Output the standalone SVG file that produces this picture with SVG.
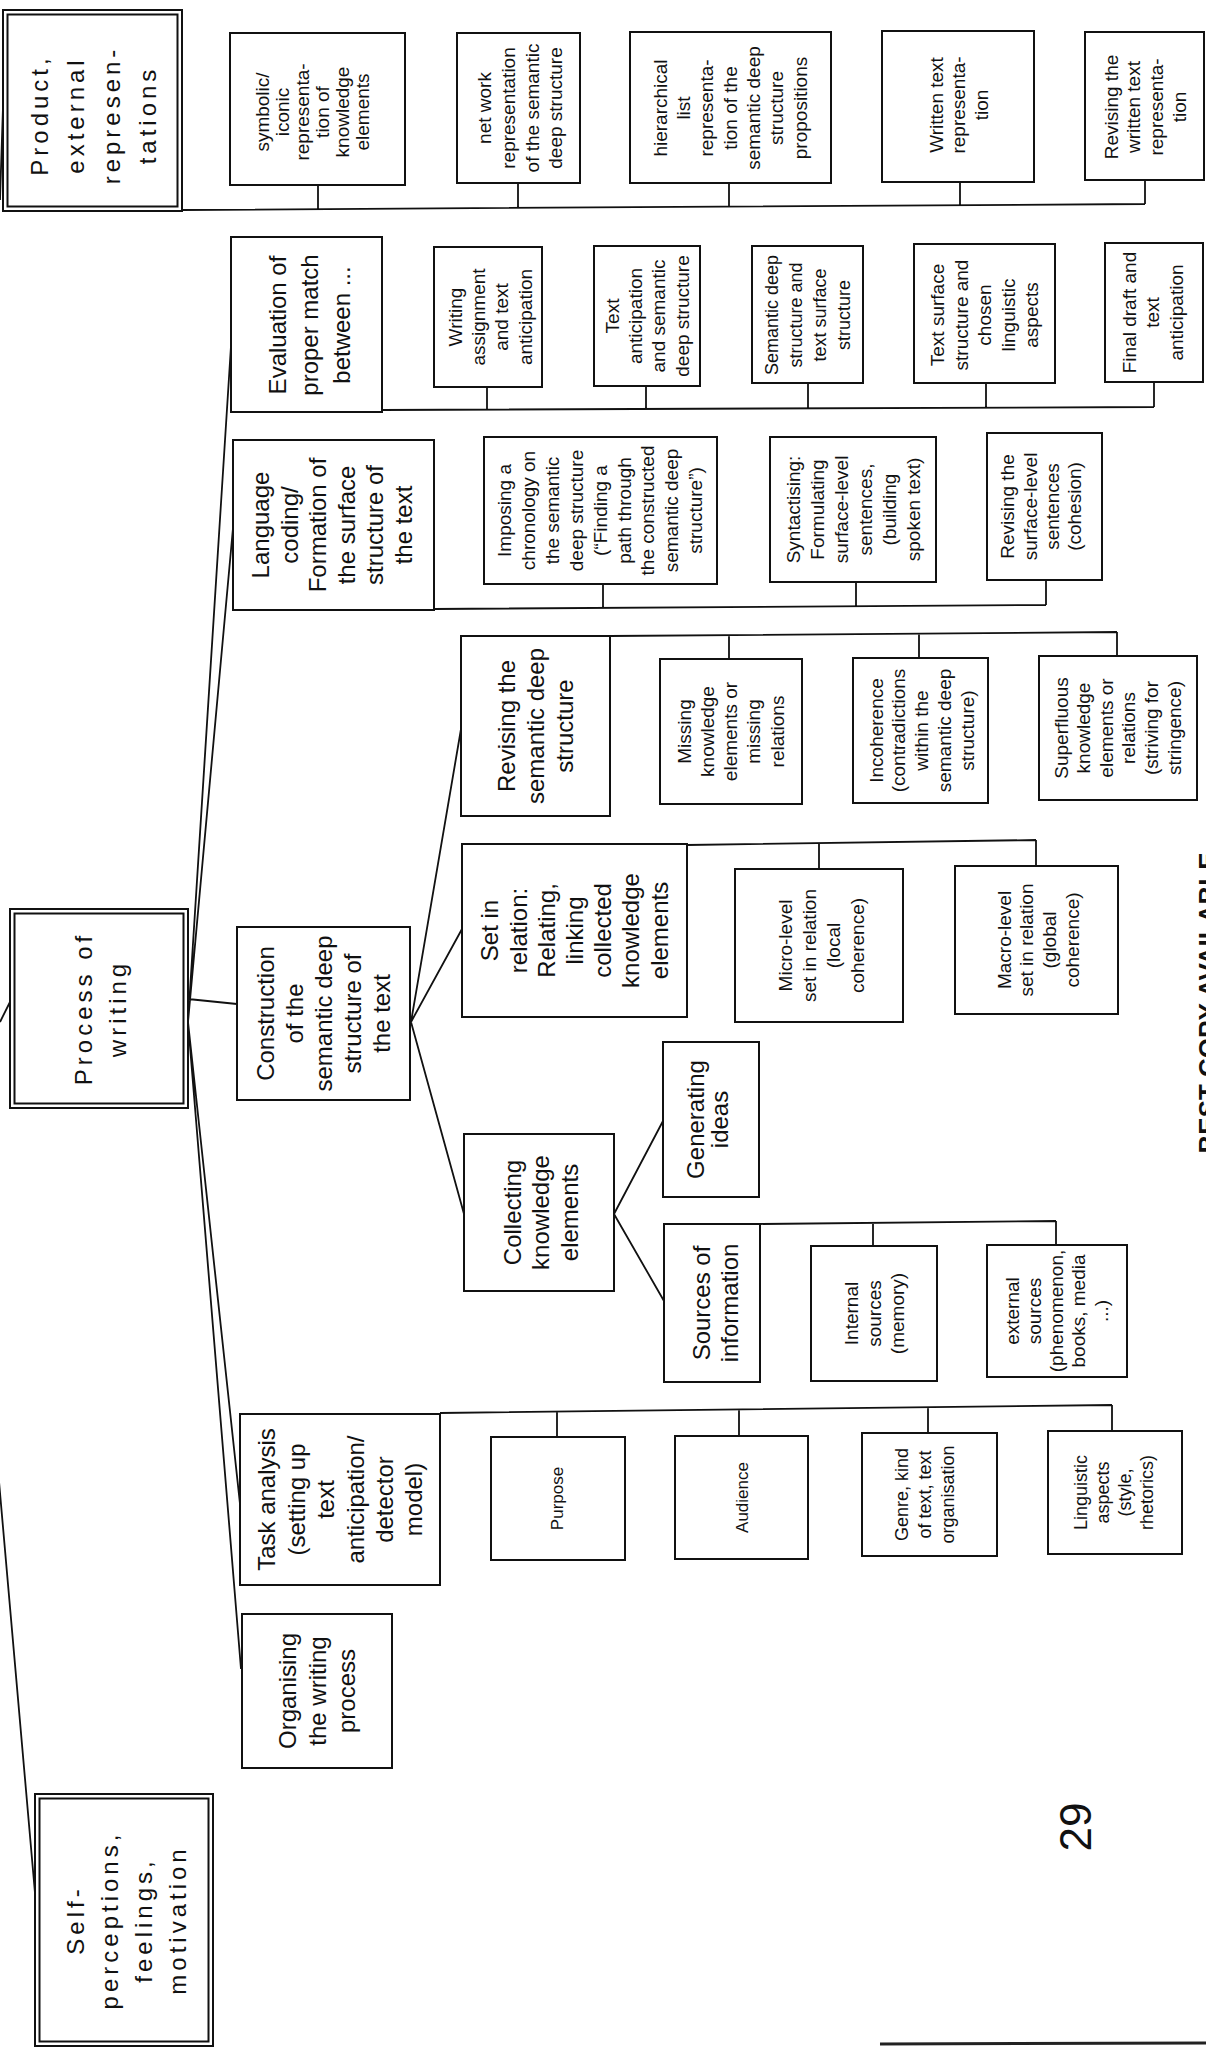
<svg xmlns="http://www.w3.org/2000/svg" width="1206" height="2047" viewBox="0 0 1206 2047">
<style>
.box{fill:#fff;stroke:#111;stroke-width:2}
.ln{stroke:#111;stroke-width:1.8;fill:none}
.t{font-family:"Liberation Sans",Arial,sans-serif;fill:#111;text-anchor:middle}
.s17{font-size:17px}.s18{font-size:18px}.s19{font-size:19px}.s24{font-size:24px}
.hdr{font-size:24px;letter-spacing:4px}
</style>
<rect width="1206" height="2047" fill="#fff"/>
<g id="connectors">
<path class="ln" d="M182,210 L1145,204 M318,185 V209.2 M518,183 V207.9 M729,183 V206.6 M960,182 V205.2 M1145,180 V204"/>
<path class="ln" d="M382,410 L1154,407 M487,387 V409.6 M646,386 V409 M808,383 V408.4 M986,383 V407.7 M1154,382 V407"/>
<path class="ln" d="M434,609 L1046,605 M603,584 V608 M856,582 V606.2 M1046,580 V605"/>
<path class="ln" d="M610,636 L1117,632 M729,635 V659 M919,633.4 V658 M1117,632 V656"/>
<path class="ln" d="M687,845 L1036,840 M819,843 V869 M1036,840 V866"/>
<path class="ln" d="M760,1224 L1056,1221 M873,1222.9 V1246 M1056,1221 V1245"/>
<path class="ln" d="M440,1413 L1112,1405 M557,1411.6 V1437 M739,1409.5 V1436 M928,1407.2 V1433 M1112,1405 V1431"/>
<path class="ln" d="M188,1022 L231,346 M188,1022 L233,528 M188,999 L237,1004 M188,1022 L240,1504 M188,1022 L241,1669"/>
<path class="ln" d="M411,1022 L461,729 M411,1022 L462,929 M411,1022 L464,1214"/>
<path class="ln" d="M614,1214 L663,1121 M614,1214 L664,1301"/>
<path class="ln" d="M0,200 L3,107 M0,1022 L11,1000 M-2,1470 L37,1916"/>
</g>
<g id="n-product">
<rect class="box" x="3" y="10" width="179" height="201"/>
<rect class="box" x="7.5" y="14.5" width="170" height="192" stroke-width="1.5"/>
<text class="t hdr" transform="translate(93.5,115) rotate(-90)"><tspan x="0" y="-45.2">Product,</tspan><tspan x="0" y="-9.5">external</tspan><tspan x="0" y="26.3">represen-</tspan><tspan x="0" y="62">tations</tspan></text>
</g>
<g id="n-symbolic">
<rect class="box" x="230" y="33" width="175" height="152"/>
<text class="t s19" transform="translate(312,112) rotate(-90)"><tspan x="0" y="-43.35">symbolic/</tspan><tspan x="0" y="-23.35">iconic</tspan><tspan x="0" y="-3.35">representa-</tspan><tspan x="0" y="16.65">tion of</tspan><tspan x="0" y="36.65">knowledge</tspan><tspan x="0" y="56.65">elements</tspan></text>
</g>
<g id="n-network">
<rect class="box" x="457" y="33" width="123" height="150"/>
<text class="t s19" transform="translate(520,108) rotate(-90)"><tspan x="0" y="-28.9">net work</tspan><tspan x="0" y="-5.2">representation</tspan><tspan x="0" y="18.5">of the semantic</tspan><tspan x="0" y="42.2">deep structure</tspan></text>
</g>
<g id="n-hierarchical">
<rect class="box" x="630" y="32" width="201" height="151"/>
<text class="t s19" transform="translate(730,108) rotate(-90)"><tspan x="0" y="-63.25">hierarchical</tspan><tspan x="0" y="-39.95">list</tspan><tspan x="0" y="-16.65">representa-</tspan><tspan x="0" y="6.65">tion of the</tspan><tspan x="0" y="29.95">semantic deep</tspan><tspan x="0" y="53.25">structure</tspan><tspan x="0" y="76.55">propositions</tspan></text>
</g>
<g id="n-written">
<rect class="box" x="882" y="31" width="152" height="151"/>
<text class="t s19" transform="translate(958.5,105) rotate(-90)"><tspan x="0" y="-15.85">Written text</tspan><tspan x="0" y="6.65">representa-</tspan><tspan x="0" y="29.15">tion</tspan></text>
</g>
<g id="n-revwritten">
<rect class="box" x="1085" y="32" width="119" height="148"/>
<text class="t s19" transform="translate(1145,107) rotate(-90)"><tspan x="0" y="-27.4">Revising the</tspan><tspan x="0" y="-4.7">written text</tspan><tspan x="0" y="18">representa-</tspan><tspan x="0" y="40.7">tion</tspan></text>
</g>
<g id="n-evaluation">
<rect class="box" x="231" y="237" width="151" height="175"/>
<text class="t s24" transform="translate(310,325) rotate(-90)"><tspan x="0" y="-23.6">Evaluation of</tspan><tspan x="0" y="8.4">proper match</tspan><tspan x="0" y="40.4">between ...</tspan></text>
</g>
<g id="n-writingassign">
<rect class="box" x="434" y="247" width="108" height="140"/>
<text class="t s19" transform="translate(490,317) rotate(-90)"><tspan x="0" y="-28.3">Writing</tspan><tspan x="0" y="-5">assignment</tspan><tspan x="0" y="18.3">and text</tspan><tspan x="0" y="41.6">anticipation</tspan></text>
</g>
<g id="n-textantic">
<rect class="box" x="594" y="246" width="106" height="140"/>
<text class="t s19" transform="translate(647,316) rotate(-90)"><tspan x="0" y="-28.3">Text</tspan><tspan x="0" y="-5">anticipation</tspan><tspan x="0" y="18.3">and semantic</tspan><tspan x="0" y="41.6">deep structure</tspan></text>
</g>
<g id="n-semsurf">
<rect class="box" x="752" y="246" width="111" height="137"/>
<text class="t s18" transform="translate(808,315) rotate(-90)"><tspan x="0" y="-29.7">Semantic deep</tspan><tspan x="0" y="-5.7">structure and</tspan><tspan x="0" y="18.3">text surface</tspan><tspan x="0" y="42.3">structure</tspan></text>
</g>
<g id="n-surfling">
<rect class="box" x="914" y="244" width="141" height="139"/>
<text class="t s19" transform="translate(984.5,315) rotate(-90)"><tspan x="0" y="-40.35">Text surface</tspan><tspan x="0" y="-16.85">structure and</tspan><tspan x="0" y="6.65">chosen</tspan><tspan x="0" y="30.15">linguistic</tspan><tspan x="0" y="53.65">aspects</tspan></text>
</g>
<g id="n-finaldraft">
<rect class="box" x="1105" y="243" width="98" height="139"/>
<text class="t s19" transform="translate(1152.5,312.5) rotate(-90)"><tspan x="0" y="-16.85">Final draft and</tspan><tspan x="0" y="6.65">text</tspan><tspan x="0" y="30.15">anticipation</tspan></text>
</g>
<g id="n-language">
<rect class="box" x="233" y="440" width="201" height="170"/>
<text class="t s24" transform="translate(332,525) rotate(-90)"><tspan x="0" y="-62.85">Language</tspan><tspan x="0" y="-34.35">coding/</tspan><tspan x="0" y="-5.85">Formation of</tspan><tspan x="0" y="22.65">the surface</tspan><tspan x="0" y="51.15">structure of</tspan><tspan x="0" y="79.65">the text</tspan></text>
</g>
<g id="n-imposing">
<rect class="box" x="484" y="437" width="233" height="147"/>
<text class="t s19" transform="translate(600,510.5) rotate(-90)"><tspan x="0" y="-88.95">Imposing a</tspan><tspan x="0" y="-65.05">chronology on</tspan><tspan x="0" y="-41.15">the semantic</tspan><tspan x="0" y="-17.25">deep structure</tspan><tspan x="0" y="6.65">(“Finding a</tspan><tspan x="0" y="30.55">path through</tspan><tspan x="0" y="54.45">the constructed</tspan><tspan x="0" y="78.35">semantic deep</tspan><tspan x="0" y="102.25">structure”)</tspan></text>
</g>
<g id="n-syntact">
<rect class="box" x="770" y="437" width="166" height="145"/>
<text class="t s19" transform="translate(853,509.5) rotate(-90)"><tspan x="0" y="-53.35">Syntactising:</tspan><tspan x="0" y="-29.35">Formulating</tspan><tspan x="0" y="-5.35">surface-level</tspan><tspan x="0" y="18.65">sentences,</tspan><tspan x="0" y="42.65">(building</tspan><tspan x="0" y="66.65">spoken text)</tspan></text>
</g>
<g id="n-revsurf">
<rect class="box" x="987" y="433" width="115" height="147"/>
<text class="t s19" transform="translate(1041,506.5) rotate(-90)"><tspan x="0" y="-26.8">Revising the</tspan><tspan x="0" y="-4.5">surface-level</tspan><tspan x="0" y="17.8">sentences</tspan><tspan x="0" y="40.1">(cohesion)</tspan></text>
</g>
<g id="n-construction">
<rect class="box" x="237" y="927" width="173" height="173"/>
<text class="t s24" transform="translate(324,1013.5) rotate(-90)"><tspan x="0" y="-49.6">Construction</tspan><tspan x="0" y="-20.6">of the</tspan><tspan x="0" y="8.4">semantic deep</tspan><tspan x="0" y="37.4">structure of</tspan><tspan x="0" y="66.4">the text</tspan></text>
</g>
<g id="n-revsem">
<rect class="box" x="461" y="636" width="149" height="180"/>
<text class="t s24" transform="translate(536,726) rotate(-90)"><tspan x="0" y="-20.6">Revising the</tspan><tspan x="0" y="8.4">semantic deep</tspan><tspan x="0" y="37.4">structure</tspan></text>
</g>
<g id="n-missing">
<rect class="box" x="660" y="659" width="142" height="145"/>
<text class="t s19" transform="translate(730.5,731.5) rotate(-90)"><tspan x="0" y="-39.75">Missing</tspan><tspan x="0" y="-16.55">knowledge</tspan><tspan x="0" y="6.65">elements or</tspan><tspan x="0" y="29.85">missing</tspan><tspan x="0" y="53.05">relations</tspan></text>
</g>
<g id="n-incoherence">
<rect class="box" x="853" y="658" width="135" height="145"/>
<text class="t s19" transform="translate(921.5,730.5) rotate(-90)"><tspan x="0" y="-38.85">Incoherence</tspan><tspan x="0" y="-16.1">(contradictions</tspan><tspan x="0" y="6.65">within the</tspan><tspan x="0" y="29.4">semantic deep</tspan><tspan x="0" y="52.15">structure)</tspan></text>
</g>
<g id="n-superfluous">
<rect class="box" x="1039" y="656" width="158" height="144"/>
<text class="t s19" transform="translate(1117.5,728) rotate(-90)"><tspan x="0" y="-49.85">Superfluous</tspan><tspan x="0" y="-27.25">knowledge</tspan><tspan x="0" y="-4.65">elements or</tspan><tspan x="0" y="17.95">relations</tspan><tspan x="0" y="40.55">(striving for</tspan><tspan x="0" y="63.15">stringence)</tspan></text>
</g>
<g id="n-setrel">
<rect class="box" x="462" y="844" width="225" height="173"/>
<text class="t s24" transform="translate(574.5,930.5) rotate(-90)"><tspan x="0" y="-76.2">Set in</tspan><tspan x="0" y="-48">relation:</tspan><tspan x="0" y="-19.8">Relating,</tspan><tspan x="0" y="8.4">linking</tspan><tspan x="0" y="36.6">collected</tspan><tspan x="0" y="64.8">knowledge</tspan><tspan x="0" y="93">elements</tspan></text>
</g>
<g id="n-micro">
<rect class="box" x="735" y="869" width="168" height="153"/>
<text class="t s19" transform="translate(821,945.5) rotate(-90)"><tspan x="0" y="-29.35">Micro-level</tspan><tspan x="0" y="-5.35">set in relation</tspan><tspan x="0" y="18.65">(local</tspan><tspan x="0" y="42.65">coherence)</tspan></text>
</g>
<g id="n-macro">
<rect class="box" x="955" y="866" width="163" height="148"/>
<text class="t s19" transform="translate(1038,940) rotate(-90)"><tspan x="0" y="-27.4">Macro-level</tspan><tspan x="0" y="-4.7">set in relation</tspan><tspan x="0" y="18">(global</tspan><tspan x="0" y="40.7">coherence)</tspan></text>
</g>
<g id="n-collecting">
<rect class="box" x="464" y="1134" width="150" height="157"/>
<text class="t s24" transform="translate(541,1212.5) rotate(-90)"><tspan x="0" y="-20.1">Collecting</tspan><tspan x="0" y="8.4">knowledge</tspan><tspan x="0" y="36.9">elements</tspan></text>
</g>
<g id="n-generating">
<rect class="box" x="663" y="1042" width="96" height="155"/>
<text class="t s24" transform="translate(708,1119.5) rotate(-90)"><tspan x="0" y="-3.6">Generating</tspan><tspan x="0" y="20.4">ideas</tspan></text>
</g>
<g id="n-sources">
<rect class="box" x="664" y="1224" width="96" height="158"/>
<text class="t s24" transform="translate(716,1303) rotate(-90)"><tspan x="0" y="-5.6">Sources of</tspan><tspan x="0" y="22.4">information</tspan></text>
</g>
<g id="n-internal">
<rect class="box" x="811" y="1246" width="126" height="135"/>
<text class="t s19" transform="translate(874,1313.5) rotate(-90)"><tspan x="0" y="-16.35">Internal</tspan><tspan x="0" y="6.65">sources</tspan><tspan x="0" y="29.65">(memory)</tspan></text>
</g>
<g id="n-external">
<rect class="box" x="987" y="1245" width="140" height="132"/>
<text class="t s19" transform="translate(1056.5,1311) rotate(-90)"><tspan x="0" y="-37.85">external</tspan><tspan x="0" y="-15.6">sources</tspan><tspan x="0" y="6.65">(phenomenon,</tspan><tspan x="0" y="28.9">books, media</tspan><tspan x="0" y="51.15">...)</tspan></text>
</g>
<g id="n-task">
<rect class="box" x="240" y="1414" width="200" height="171"/>
<text class="t s24" transform="translate(340.5,1499.5) rotate(-90)"><tspan x="0" y="-65.1">Task analysis</tspan><tspan x="0" y="-35.7">(setting up</tspan><tspan x="0" y="-6.3">text</tspan><tspan x="0" y="23.1">anticipation/</tspan><tspan x="0" y="52.5">detector</tspan><tspan x="0" y="81.9">model)</tspan></text>
</g>
<g id="n-purpose">
<rect class="box" x="491" y="1437" width="134" height="123"/>
<text class="t s17" transform="translate(557,1498.5) rotate(-90)"><tspan x="0" y="5.95">Purpose</tspan></text>
</g>
<g id="n-audience">
<rect class="box" x="675" y="1436" width="133" height="123"/>
<text class="t s17" transform="translate(742,1497.5) rotate(-90)"><tspan x="0" y="5.95">Audience</tspan></text>
</g>
<g id="n-genre">
<rect class="box" x="862" y="1433" width="135" height="123"/>
<text class="t s18" transform="translate(925,1494.5) rotate(-90)"><tspan x="0" y="-16.7">Genre, kind</tspan><tspan x="0" y="6.3">of text, text</tspan><tspan x="0" y="29.3">organisation</tspan></text>
</g>
<g id="n-linguistic">
<rect class="box" x="1048" y="1431" width="134" height="123"/>
<text class="t s18" transform="translate(1114,1492.5) rotate(-90)"><tspan x="0" y="-26.7">Linguistic</tspan><tspan x="0" y="-4.7">aspects</tspan><tspan x="0" y="17.3">(style,</tspan><tspan x="0" y="39.3">rhetorics)</tspan></text>
</g>
<g id="n-organising">
<rect class="box" x="242" y="1614" width="150" height="154"/>
<text class="t s24" transform="translate(317.5,1691) rotate(-90)"><tspan x="0" y="-21.1">Organising</tspan><tspan x="0" y="8.4">the writing</tspan><tspan x="0" y="37.9">process</tspan></text>
</g>
<g id="n-process">
<rect class="box" x="10" y="909" width="178" height="199"/>
<rect class="box" x="14.5" y="913.5" width="169" height="190" stroke-width="1.5"/>
<text class="t hdr" transform="translate(101,1008.5) rotate(-90)"><tspan x="0" y="-8.6">Process of</tspan><tspan x="0" y="25.4">writing</tspan></text>
</g>
<g id="n-self">
<rect class="box" x="35" y="1794" width="178" height="252"/>
<rect class="box" x="39.5" y="1798.5" width="169" height="243" stroke-width="1.5"/>
<text class="t hdr" transform="translate(127,1920) rotate(-90)"><tspan x="0" y="-42.6">Self-</tspan><tspan x="0" y="-8.6">perceptions,</tspan><tspan x="0" y="25.4">feelings,</tspan><tspan x="0" y="59.4">motivation</tspan></text>
</g>
<g id="page-marks">
<text class="t" font-size="44" transform="translate(1091,1827) rotate(-90)">29</text>
<text class="t" font-size="26" font-weight="bold" transform="translate(1217,1003) rotate(-90)">BEST COPY AVAILABLE</text>
<path d="M880,2044 L1206,2043" stroke="#222" stroke-width="3"/>
</g>
</svg>
